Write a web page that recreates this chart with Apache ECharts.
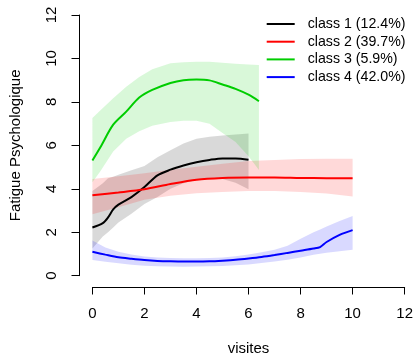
<!DOCTYPE html>
<html>
<head>
<meta charset="utf-8">
<script src="https://cdn.jsdelivr.net/npm/echarts@6/dist/echarts.min.js"></script>
<style>
html,body{margin:0;padding:0;background:#fff;}
#c{width:416px;height:361px;}
</style>
</head>
<body>
<div id="c"></div>
<script>
// ---- data ----
var seriesNames = ['class 1 (12.4%)', 'class 2 (39.7%)', 'class 3 (5.9%)', 'class 4 (42.0%)'];
var xTicks = [0, 2, 4, 6, 8, 10, 12];
var yTicks = [0, 2, 4, 6, 8, 10, 12];

var c1X  = [0, 0.4, 0.6, 0.8, 1.0, 1.5, 2, 2.5, 3, 3.5, 4, 4.5, 5, 5.5, 6];
var c1Y  = [2.22, 2.42, 2.68, 3.05, 3.27, 3.62, 4.08, 4.62, 4.88, 5.07, 5.22, 5.33, 5.4, 5.4, 5.34];
var c1Lo = [1.25, 1.8, 2.0, 2.22, 2.45, 2.85, 3.3, 3.62, 4.0, 4.25, 4.4, 4.45, 4.45, 4.28, 3.98];
var c1Hi = [3.9, 4.25, 4.48, 4.56, 4.65, 4.85, 5.05, 5.45, 5.78, 6.08, 6.3, 6.4, 6.45, 6.5, 6.54];

var c2X  = [0, 1, 2, 3, 4, 5, 6, 7, 8, 9, 10];
var c2Y  = [3.7, 3.83, 3.98, 4.22, 4.42, 4.5, 4.52, 4.52, 4.5, 4.49, 4.48];
var c2Lo = [2.83, 3.15, 3.5, 3.68, 3.8, 3.85, 3.9, 3.9, 3.85, 3.78, 3.65];
var c2Hi = [4.45, 4.58, 4.72, 4.88, 5.02, 5.15, 5.28, 5.33, 5.37, 5.38, 5.38];

var c3X  = [0, 0.3, 0.8, 1.3, 1.8, 2.3, 3, 3.5, 4, 4.5, 5, 5.5, 6, 6.4];
var c3Y  = [5.3, 5.9, 6.95, 7.55, 8.2, 8.55, 8.87, 9.0, 9.03, 8.99, 8.8, 8.6, 8.33, 8.03];
var c3Lo = [4.3, 4.8, 5.72, 6.3, 6.65, 6.9, 7.08, 7.13, 7.13, 7.0, 6.57, 6.15, 5.5, 4.86];
var c3Hi = [7.26, 7.6, 8.17, 8.7, 9.15, 9.5, 9.78, 9.83, 9.85, 9.85, 9.8, 9.76, 9.72, 9.7];

var c4X  = [0, 0.5, 1, 1.5, 2, 2.5, 3, 3.5, 4, 4.5, 5, 5.5, 6, 6.5, 7, 7.5, 8, 8.5, 8.75, 9, 9.5, 10];
var c4Y  = [1.1, 0.97, 0.85, 0.78, 0.72, 0.68, 0.66, 0.65, 0.65, 0.66, 0.69, 0.73, 0.79, 0.86, 0.95, 1.05, 1.15, 1.25, 1.32, 1.55, 1.88, 2.1];
var c4Lo = [0.72, 0.64, 0.57, 0.5, 0.46, 0.43, 0.42, 0.41, 0.42, 0.43, 0.45, 0.48, 0.52, 0.58, 0.65, 0.73, 0.84, 0.96, 1.01, 1.06, 1.13, 1.2];
var c4Hi = [1.62, 1.3, 1.1, 0.98, 0.88, 0.84, 0.81, 0.8, 0.8, 0.81, 0.84, 0.9, 0.98, 1.08, 1.2, 1.38, 1.7, 2.0, 2.13, 2.27, 2.52, 2.75];

var lineColors = ['#000000', '#FF0000', '#00CD00', '#0000FF'];
var bandColors = ['rgba(0,0,0,0.15)', 'rgba(255,0,0,0.15)', 'rgba(0,205,0,0.15)', 'rgba(0,0,255,0.15)'];

// ---- build ----
function pairs(xs, ys) { var o = []; for (var i = 0; i < xs.length; i++) o.push([xs[i], ys[i]]); return o; }
function band(xs, lo, hi, color) {
  return {
    type: 'custom', silent: true, z: 1,
    data: pairs(xs, lo),
    encode: { x: 0, y: 1 },
    renderItem: function (params, api) {
      if (params.dataIndex !== 0) return;
      var pts = [];
      for (var i = 0; i < xs.length; i++) pts.push(api.coord([xs[i], hi[i]]));
      for (var j = xs.length - 1; j >= 0; j--) pts.push(api.coord([xs[j], lo[j]]));
      return { type: 'polygon', shape: { points: pts }, style: { fill: color } };
    }
  };
}
function line(name, xs, ys, color) {
  return {
    type: 'line', name: name, data: pairs(xs, ys), z: 5,
    showSymbol: false, symbol: 'none', smooth: 0.3,
    lineStyle: { color: color, width: 2 }, itemStyle: { color: color }
  };
}
var classes = [[c1X, c1Y, c1Lo, c1Hi], [c2X, c2Y, c2Lo, c2Hi], [c3X, c3Y, c3Lo, c3Hi], [c4X, c4Y, c4Lo, c4Hi]];
var series = [];
classes.forEach(function (c, k) { series.push(band(c[0], c[2], c[3], bandColors[k])); });
classes.forEach(function (c, k) { series.push(line(seriesNames[k], c[0], c[1], lineColors[k])); });

var FONT = 'Liberation Sans, Arial, sans-serif';
var chart = echarts.init(document.getElementById('c'), null, { renderer: 'canvas' });
chart.setOption({
  animation: false,
  backgroundColor: '#ffffff',
  grid: { left: 90.7, right: 9.7, top: 15, bottom: 80 },
  legend: {
    orient: 'vertical', left: 266.7, top: 16.5, padding: 0,
    data: seriesNames.map(function (n, k) { return { name: n, icon: 'rect', itemStyle: { color: lineColors[k] } }; }),
    itemWidth: 28, itemHeight: 2, itemGap: 2.7,
    textStyle: { fontFamily: FONT, fontSize: 14.2, color: '#000', lineHeight: 15, padding: [0, 0, 0, 8] },
    selectedMode: false
  },
  xAxis: {
    type: 'value', min: xTicks[0], max: xTicks[xTicks.length - 1], interval: 2,
    offset: 11.3,
    name: 'visites', nameLocation: 'middle', nameGap: 54,
    nameTextStyle: { fontFamily: FONT, fontSize: 15, color: '#000' },
    axisLine: { show: true, onZero: false, lineStyle: { color: '#000', width: 1 } },
    axisTick: { show: true, length: 7.5, lineStyle: { color: '#000' } },
    axisLabel: { fontFamily: FONT, fontSize: 15, color: '#000', margin: 19 },
    splitLine: { show: false }
  },
  yAxis: {
    type: 'value', min: yTicks[0], max: yTicks[yTicks.length - 1], interval: 2,
    offset: 13.4,
    name: 'Fatigue Psychologique', nameLocation: 'middle', nameGap: 56, nameRotate: 90,
    nameTextStyle: { fontFamily: FONT, fontSize: 15, color: '#000' },
    axisLine: { show: true, onZero: false, lineStyle: { color: '#000', width: 1 } },
    axisTick: { show: true, length: 7.5, lineStyle: { color: '#000' } },
    axisLabel: { fontFamily: FONT, fontSize: 15, color: '#000', margin: 20, rotate: 90 },
    splitLine: { show: false }
  },
  series: series
});
</script>
</body>
</html>
